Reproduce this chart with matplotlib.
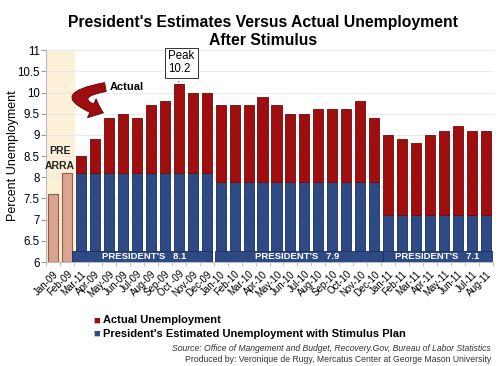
import matplotlib
matplotlib.use('Agg')
import matplotlib.pyplot as plt
from matplotlib.patches import Rectangle, FancyArrowPatch
import numpy as np

plt.rcParams['font.family'] = ['Liberation Sans', 'DejaVu Sans']

# data
months = ['Jan-09', 'Feb-09', 'Mar-11', 'Apr-09', 'May-09', 'Jun-09', 'Jul-09', 'Aug-09',
          'Sep-09', 'Oct -09', 'Nov-09', 'Dec-09', 'Jan-10', 'Feb-10', 'Mar-10', 'Apr-10',
          'May-10', 'Jun-10', 'Jul-10', 'Aug-10', 'Sep-10', 'Oct-10', 'Nov-10', 'Dec-10',
          'Jan-11', 'Feb-11', 'Mar-11', 'Apr-11', 'May-11', 'Jun-11', 'Jul-11', 'Aug-11']
actual = [7.6, 8.1, 8.5, 8.9, 9.4, 9.5, 9.4, 9.7, 9.8, 10.2, 10.0, 10.0,
          9.7, 9.7, 9.7, 9.9, 9.7, 9.5, 9.5, 9.6, 9.6, 9.6, 9.8, 9.4,
          9.0, 8.9, 8.8, 9.0, 9.1, 9.2, 9.1, 9.1]
n_pre = 2
# president's estimate per year group: (first index, last index, value)
groups = [(2, 11, 8.1), (12, 23, 7.9), (24, 31, 7.1)]

red = '#a00d0e'
blue = '#2e4a85'
tan = '#d9a58e'

fig = plt.figure(figsize=(5, 3.66), dpi=100)
ax = fig.add_axes([0.092, 0.284, 0.894, 0.579])

x = np.arange(len(months))
ymin = 6

# pre-ARRA shading
ax.axvspan(-0.5, n_pre - 0.5, color='#fcf0d8', zorder=0)

ax.bar(x[:n_pre], np.array(actual[:n_pre]) - ymin, bottom=ymin, width=0.72,
       color=tan, edgecolor='#9a5c45', linewidth=0.8, zorder=2)

for start, end, pres in groups:
    xs = x[start:end + 1]
    act = np.array(actual[start:end + 1])
    ax.bar(xs, pres - ymin, bottom=ymin, width=0.72, color=blue,
           edgecolor='#1d3160', linewidth=0.6, zorder=2)
    ax.bar(xs, act - pres, bottom=pres, width=0.72, color=red,
           edgecolor='#6e0a0a', linewidth=0.6, zorder=2)
    ax.add_patch(Rectangle((start - 0.65 if start == 2 else start - 0.4, ymin),
                           end - start + 1.05, 0.26, facecolor=blue,
                           edgecolor='#1d3160', linewidth=0.6, zorder=3))
    ax.text((start + end) / 2, ymin + 0.12, "PRESIDENT'S   %.1f" % pres,
            color='white', fontsize=6.8, fontweight='bold', ha='center',
            va='center', zorder=4)

ax.set_xlim(-0.5, len(months) - 0.5)
ax.set_ylim(6, 11)
ax.set_yticks(np.arange(6, 11.01, 0.5))
ax.set_yticklabels(['6', '6.5', '7', '7.5', '8', '8.5', '9', '9.5', '10', '10.5', '11'],
                   fontsize=8.3)
ax.set_xticks(x)
ax.set_xticklabels(months, rotation=45, ha='right', rotation_mode='anchor', fontsize=7)
ax.tick_params(axis='x', length=0, pad=5)
ax.tick_params(axis='y', length=3.5, color='#999999', pad=1)
ax.set_xticks(np.arange(-0.5, len(months), 1), minor=True)
ax.tick_params(axis='x', which='minor', length=3, color='#bbbbbb')
ax.yaxis.grid(True, color='#e6e6e6', linewidth=0.6, zorder=0)
ax.set_axisbelow(True)
for s in ['top', 'right']:
    ax.spines[s].set_visible(False)
ax.spines['left'].set_color('#bbbbbb')
ax.spines['bottom'].set_color('#bbbbbb')
ax.set_ylabel('Percent Unemployment', fontsize=9, va='center')
ax.yaxis.set_label_coords(-0.074, 0.5)

# annotations
ax.text(0.5, 8.45, 'PRE\nARRA', fontsize=7.5, fontweight='bold', ha='center',
        va='center', linespacing=1.6, color='#222222', zorder=5)
ax.annotate('Peak\n10.2', xy=(9, 10.25), xytext=(9.2, 10.7), fontsize=8.3,
            ha='center', va='center', multialignment='left', linespacing=1.1,
            bbox=dict(boxstyle='square,pad=0.25', fc='white', ec='#333333', lw=0.7),
            arrowprops=dict(arrowstyle='-', color='#333333', lw=0.7), zorder=6)
ax.text(4.08, 10.12, 'Actual', fontsize=8, fontweight='bold', ha='left', va='center')
arr = FancyArrowPatch((3.95, 10.14), (3.8, 9.5), connectionstyle='arc3,rad=2.0',
                      arrowstyle='simple,head_width=15,head_length=9,tail_width=6.5',
                      fc=red, ec='#5a0505', lw=0.6, zorder=6)
ax.add_patch(arr)

fig.suptitle("President's Estimates Versus Actual Unemployment\nAfter Stimulus",
             x=0.526, y=0.958, fontsize=11.3, fontweight='bold', linespacing=1.2)

# legend
fig.text(0.186, 0.125, '\u25a0', color=red, fontsize=8, va='center', ha='left')
fig.text(0.206, 0.125, 'Actual Unemployment', fontsize=8, fontweight='bold', va='center')
fig.text(0.186, 0.088, '\u25a0', color=blue, fontsize=8, va='center', ha='left')
fig.text(0.206, 0.088, "President's Estimated Unemployment with Stimulus Plan",
         fontsize=8, fontweight='bold', va='center')
fig.text(0.982, 0.048,
         'Source: Office of Mangement and Budget, Recovery.Gov, Bureau of Labor Statistics',
         fontsize=6.2, style='italic', ha='right', va='center', color='#333333')
fig.text(0.982, 0.018,
         'Produced by: Veronique de Rugy, Mercatus Center at George Mason University',
         fontsize=6.2, ha='right', va='center', color='#333333')

fig.savefig('out.png', dpi=100)
